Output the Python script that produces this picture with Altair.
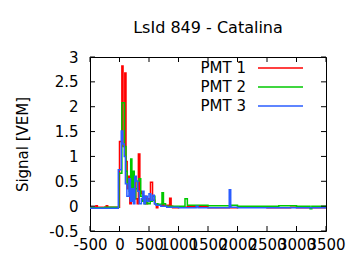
import altair as alt
import pandas as pd

series_names = ["PMT 1", "PMT 2", "PMT 3"]
series_colors = ["#ff0000", "#00c800", "#2a5cff"]

# PMT 1 (red) step trace: time [ns], signal [VEM]
t1 = [-500, -400, -375, -225, -200, 0, 40, 60, 90, 110, 130, 150, 175, 200, 225, 250, 275, 300,
      320, 345, 370, 400, 425, 450, 475, 500, 525, 560, 600, 625, 650, 700, 725, 750, 850, 875,
      900, 1000, 1150, 1500, 2000, 2500, 2900, 3000, 3500]
v1 = [-0.02, 0.01, -0.02, 0.01, -0.02, 1.3, 2.82, 1.2, 2.68, 0.9, 0.35, 0.6, 0.05, 0.45, 0.2, 0.55, 0.15, 0.05,
      1.05, 0.3, 0.25, 0.1, 0.2, 0.05, 0.15, 0.1, 0.48, 0.12, 0.05, -0.03, 0.03, 0.02, 0.05, 0.02, 0.16, 0.0,
      -0.03, -0.02, -0.01, -0.03, -0.02, -0.03, -0.02, -0.03, -0.03]

# PMT 2 (green)
t2 = [-500, -250, -10, 40, 85, 110, 130, 165, 190, 210, 230, 250, 275, 300, 330, 360, 390, 420, 450,
      480, 520, 560, 600, 650, 720, 745, 780, 900, 1110, 1150, 1500, 1900, 2000, 2700, 3000, 3230, 3260, 3500]
v2 = [-0.03, -0.02, 0.66, 2.08, 1.2, 0.7, 0.45, 0.3, 0.95, 0.2, 0.7, 0.15, 0.35, 0.5, 0.55, 0.2, 0.1, 0.05, 0.12,
      0.05, 0.1, 0.2, 0.05, 0.04, 0.27, 0.05, 0.0, 0.0, 0.15, 0.02, 0.01, 0.02, 0.0, 0.01, 0.0, -0.05, 0.0, 0.0]

# PMT 3 (blue)
t3 = [-500, -20, 30, 55, 80, 100, 125, 160, 185, 210, 235, 260, 285, 310, 335, 370, 395, 415, 440, 470,
      500, 530, 560, 590, 620, 700, 800, 1000, 1300, 1330, 1860, 1885, 2000, 2400, 3500]
v3 = [-0.04, 0.73, 1.51, 1.25, 1.0, 0.45, 0.2, 0.55, 0.1, 0.35, 0.05, 0.6, 0.5, 0.3, 0.05, 0.15, 0.3, 0.05, 0.2, 0.1,
      0.25, 0.12, 0.22, 0.05, 0.02, 0.0, -0.02, -0.03, 0.0, -0.03, 0.33, -0.02, -0.03, -0.03, -0.03]

x_ticks = [-500, 0, 500, 1000, 1500, 2000, 2500, 3000, 3500]
y_ticks = [-0.5, 0, 0.5, 1, 1.5, 2, 2.5, 3]

FONT = "DejaVu Sans"
FS = 15
W, H = 236, 174

rows = []
for name, ts, vs in zip(series_names, [t1, t2, t3], [v1, v2, v3]):
    for t, v in zip(ts, vs):
        rows.append({"series": name, "t": t, "v": v})
df = pd.DataFrame(rows)

xscale = alt.Scale(domain=[-500, 3500], nice=False, zero=False)
yscale = alt.Scale(domain=[-0.5, 3], nice=False, zero=False)
cscale = alt.Scale(domain=series_names, range=series_colors)

common_axis = dict(ticks=False, grid=False, domain=False, labelExpr="datum.value",
                   labelOverlap=False, labelFlush=False, labelFont=FONT, labelFontSize=FS,
                   labelColor="black", titleFont=FONT, titleFontSize=FS, titleFontWeight="normal",
                   titleColor="black")
x_axis = alt.Axis(values=x_ticks, title=None, labelPadding=6, **common_axis)

lines = alt.Chart(df).mark_line(interpolate="step-after", strokeWidth=1.5, clip=True).encode(
    x=alt.X("t:Q", scale=xscale, axis=x_axis),
    y=alt.Y("v:Q", scale=yscale,
            axis=alt.Axis(values=y_ticks, title="Signal [VEM]", labelPadding=12, titlePadding=18,
                          **common_axis)),
    color=alt.Color("series:N", scale=cscale, legend=None),
    order=alt.Order("t:Q"),
)

xt = pd.DataFrame({"t": x_ticks})
yt = pd.DataFrame({"v": y_ticks})
tick_len = 5

xb = alt.Chart(xt).mark_rule(color="black", strokeWidth=1).encode(
    x=alt.X("t:Q", scale=xscale, axis=x_axis), y=alt.value(H), y2=alt.value(H - tick_len))
xtop = alt.Chart(xt).mark_rule(color="black", strokeWidth=1).encode(
    x=alt.X("t:Q", scale=xscale, axis=x_axis), y=alt.value(0), y2=alt.value(tick_len))
yl = alt.Chart(yt).mark_rule(color="black", strokeWidth=1).encode(
    y=alt.Y("v:Q", scale=yscale, axis=None), x=alt.value(0), x2=alt.value(tick_len))
yr = alt.Chart(yt).mark_rule(color="black", strokeWidth=1).encode(
    y=alt.Y("v:Q", scale=yscale, axis=None), x=alt.value(W), x2=alt.value(W - tick_len))

leg = pd.DataFrame({"series": series_names})
legy = alt.Y("series:N", scale=alt.Scale(type="point", domain=series_names, range=[11, 49], padding=0), axis=None)
leg_text = alt.Chart(leg).mark_text(align="right", baseline="middle", font=FONT, fontSize=FS, color="black").encode(
    x=alt.value(156), y=legy, text="series:N")
leg_rule = alt.Chart(leg).mark_rule(strokeWidth=1.5).encode(
    x=alt.value(168), x2=alt.value(213), y=legy,
    color=alt.Color("series:N", scale=cscale, legend=None))

chart = alt.layer(lines, xb, xtop, yl, yr, leg_text, leg_rule).resolve_scale(y="independent").properties(
    width=W, height=H,
    title=alt.TitleParams("LsId 849 - Catalina", font=FONT, fontSize=16, fontWeight="normal",
                          color="black", anchor="middle", offset=14),
    autosize=alt.AutoSizeParams(type="none"),
    padding={"left": 90, "top": 57, "right": 34, "bottom": 39},
    background="white",
).configure_view(stroke="black", strokeWidth=1)

chart.save("out.html", embed_options={"renderer": "svg", "actions": False})
